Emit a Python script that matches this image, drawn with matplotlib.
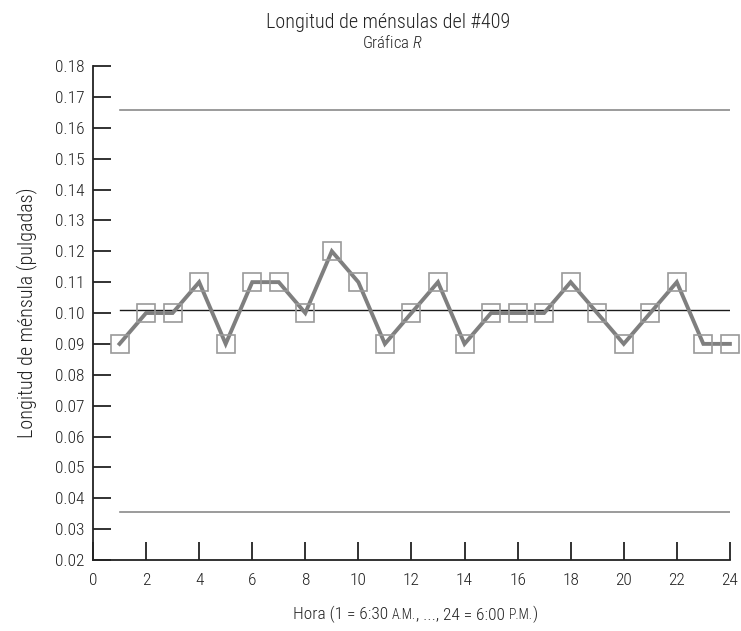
import matplotlib
matplotlib.use("Agg")
import matplotlib.pyplot as plt

FONT = "Roboto Condensed"
plt.rcParams["font.family"] = [FONT, "DejaVu Sans"]
plt.rcParams["font.weight"] = 300
plt.rcParams["axes.labelweight"] = 300
plt.rcParams["mathtext.fontset"] = "custom"
plt.rcParams["mathtext.rm"] = FONT + ":light"
plt.rcParams["mathtext.it"] = FONT + ":italic:light"

INK = "#222222"

hours = list(range(1, 25))
ranges = [0.09, 0.10, 0.10, 0.11, 0.09, 0.11, 0.11, 0.10, 0.12, 0.11, 0.09, 0.10,
          0.11, 0.09, 0.10, 0.10, 0.10, 0.11, 0.10, 0.09, 0.10, 0.11, 0.09, 0.09]
center_line = sum(ranges) / len(ranges)
ucl = 0.1657
lcl = 0.0355

xticks = list(range(0, 25, 2))
yticks = [0.02 + 0.01 * i for i in range(17)]

fig = plt.figure(figsize=(7.41, 6.31), dpi=100)
ax = fig.add_axes([0.1255, 0.1125, 0.8595, 0.7829])

ax.plot([hours[0], hours[-1]], [ucl, ucl], color="#8a8a8a", lw=1.2)
ax.plot([hours[0], hours[-1]], [lcl, lcl], color="#8a8a8a", lw=1.2)
ax.plot([hours[0], hours[-1]], [center_line, center_line], color="#1a1a1a", lw=1.0)
ax.plot(hours, ranges, color="#7f7f7f", lw=2.8, solid_joinstyle="miter", zorder=3,
        clip_on=False)
ax.plot(hours, ranges, ls="none", marker="s", ms=13, mfc="none",
        mec="#9a9a9a", mew=1.2, zorder=4, clip_on=False)

ax.set_xlim(0, 24)
ax.set_ylim(0.02, 0.18)
ax.set_xticks(xticks)
ax.set_xticklabels([str(t) for t in xticks])
ax.set_yticks(yticks)
ax.set_yticklabels([f"{v:.2f}" for v in yticks])

for s in ("top", "right"):
    ax.spines[s].set_visible(False)
for s in ("left", "bottom"):
    ax.spines[s].set_linewidth(1.3)
    ax.spines[s].set_color(INK)
ax.tick_params(axis="both", direction="in", length=13, width=1.3, color=INK,
               labelsize=12.5, labelcolor=INK)
ax.tick_params(axis="x", pad=9)
ax.tick_params(axis="y", pad=6)

ax.set_ylabel("Longitud de ménsula (pulgadas)", fontsize=14.5, color=INK,
              labelpad=13, fontweight=300)

fig.text(0.524, 0.965, "Longitud de ménsulas del #409", ha="center", va="center",
         fontsize=14.5, color=INK)
fig.text(0.530, 0.932, r"Gráfica $\it{R}$", ha="center", va="center",
         fontsize=12, color=INK)

# x-axis title with small-caps style A.M. / P.M.
big, small = 12.5, 9.8
pieces = [("Hora (1 = 6:30", big), (" ", big), ("A.M.", small),
          (", ..., 24 = 6:00", big), (" ", big), ("P.M.", small), (")", big)]
renderer = fig.canvas.get_renderer()


def width_px(s, size):
    if s == " ":
        a = fig.text(0, 0, "x x", fontsize=size)
        b = fig.text(0, 0, "xx", fontsize=size)
        w = a.get_window_extent(renderer).width - b.get_window_extent(renderer).width
        a.remove()
        b.remove()
        return w
    t = fig.text(0, 0, s, fontsize=size)
    w = t.get_window_extent(renderer).width
    t.remove()
    return w


widths = [width_px(s, sz) for s, sz in pieces]
total = sum(widths)
fig_w = fig.get_figwidth() * fig.dpi
x = 0.561 * fig_w - total / 2
baseline_y = 1 - 619 / 631
for (s, sz), w in zip(pieces, widths):
    if s != " ":
        fig.text(x / fig_w, baseline_y, s, fontsize=sz, color=INK, ha="left", va="baseline")
    x += w

fig.savefig("out.png", dpi=100)
